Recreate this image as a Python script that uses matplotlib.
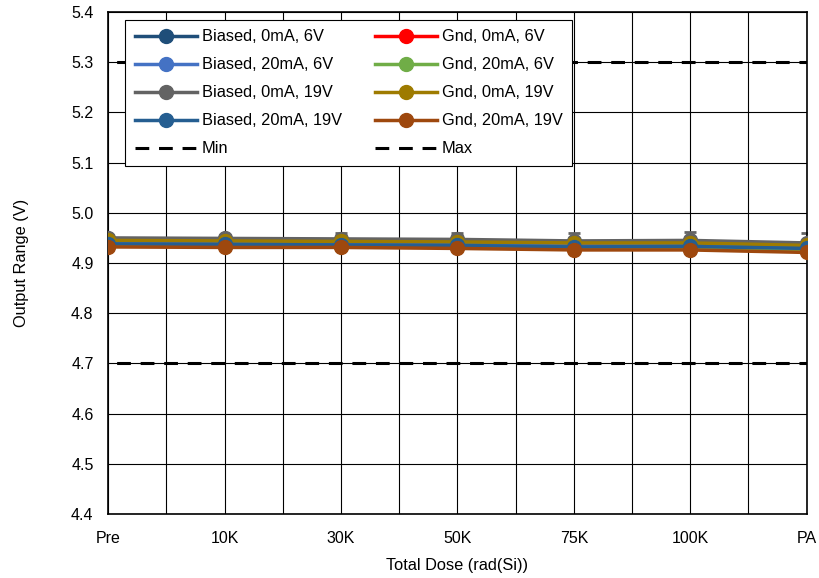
import matplotlib
matplotlib.use("Agg")
import matplotlib.pyplot as plt
import numpy as np

plt.rcParams["font.family"] = ["Liberation Sans", "DejaVu Sans"]

# data
doses = ["Pre", "10K", "30K", "50K", "75K", "100K", "PA"]
biased_0ma_6v = [4.945, 4.944, 4.943, 4.942, 4.939, 4.940, 4.934]
biased_20ma_6v = [4.940, 4.939, 4.938, 4.937, 4.934, 4.935, 4.930]
biased_0ma_19v = [4.950, 4.949, 4.948, 4.947, 4.944, 4.945, 4.940]
biased_20ma_19v = [4.938, 4.937, 4.936, 4.935, 4.932, 4.933, 4.929]
gnd_0ma_6v = [4.944, 4.943, 4.942, 4.941, 4.938, 4.939, 4.933]
gnd_20ma_6v = [4.936, 4.935, 4.934, 4.933, 4.930, 4.931, 4.926]
gnd_0ma_19v = [4.945, 4.944, 4.943, 4.942, 4.940, 4.940, 4.935]
gnd_20ma_19v = [4.932, 4.931, 4.931, 4.929, 4.926, 4.926, 4.921]
err_0ma_19v = [0.003, 0.006, 0.012, 0.013, 0.015, 0.016, 0.019]
spec_min = 4.7
spec_max = 5.3

series = [
    ("Biased, 0mA, 6V", biased_0ma_6v, "#1f4e79"),
    ("Gnd, 0mA, 6V", gnd_0ma_6v, "#ff0000"),
    ("Biased, 20mA, 6V", biased_20ma_6v, "#4472c4"),
    ("Gnd, 20mA, 6V", gnd_20ma_6v, "#70ad47"),
    ("Biased, 0mA, 19V", biased_0ma_19v, "#636363"),
    ("Gnd, 0mA, 19V", gnd_0ma_19v, "#9e7b00"),
    ("Biased, 20mA, 19V", biased_20ma_19v, "#255e91"),
    ("Gnd, 20mA, 19V", gnd_20ma_19v, "#9e480e"),
]

fig = plt.figure(figsize=(8.19, 5.78), dpi=100)
ax = fig.add_axes([0.132, 0.111, 0.853, 0.868])

x = np.arange(len(doses))

# error bars on the 19V unloaded biased part
ax.errorbar(x, biased_0ma_19v, yerr=err_0ma_19v, fmt="none",
            ecolor="#636363", elinewidth=1.5, capsize=4, capthick=2, zorder=2)

handles = {}
for label, vals, col in series:
    h, = ax.plot(x, vals, color=col, lw=2.5, marker="o", markersize=10,
                 label=label, zorder=3)
    handles[label] = h

dash = (0, (4.5, 3.2))
h_min, = ax.plot([x[0] - 1, x[-1] + 1], [spec_min, spec_min], color="black",
                 lw=2.2, ls=dash, label="Min", zorder=2)
h_max, = ax.plot([x[0] - 1, x[-1] + 1], [spec_max, spec_max], color="black",
                 lw=2.2, ls=dash, label="Max", zorder=2)

# axes format
ax.set_xlim(0, 6)
ax.set_ylim(4.4, 5.4)
ax.set_xticks(x)
ax.set_xticklabels(doses)
ax.set_xticks(np.arange(0.5, 6, 1), minor=True)
ax.set_yticks(np.arange(4.4, 5.41, 0.1))
ax.yaxis.set_major_formatter(matplotlib.ticker.FormatStrFormatter("%.1f"))
ax.grid(True, which="both", color="black", lw=0.8)
ax.tick_params(which="both", length=0, labelsize=11.5, pad=12)
ax.tick_params(axis="y", pad=10.5)
for s in ax.spines.values():
    s.set_color("black")
    s.set_linewidth(1.2)

ax.set_xlabel("Total Dose (rad(Si))", fontsize=11.8, labelpad=9)
ax.set_ylabel("Output Range (V)", fontsize=11.8, labelpad=30)

order = ["Biased, 0mA, 6V", "Biased, 20mA, 6V", "Biased, 0mA, 19V",
         "Biased, 20mA, 19V"]
order2 = ["Gnd, 0mA, 6V", "Gnd, 20mA, 6V", "Gnd, 0mA, 19V", "Gnd, 20mA, 19V"]
hl = [handles[k] for k in order] + [h_min] + [handles[k] for k in order2] + [h_max]
leg = ax.legend(hl, [h.get_label() for h in hl], ncol=2, loc="upper left",
                bbox_to_anchor=(0.024, 0.985), fontsize=11.8, frameon=True,
                fancybox=False, framealpha=1, edgecolor="black",
                handlelength=3.8, handletextpad=0.3, columnspacing=2.0,
                labelspacing=0.79, borderpad=0.6, borderaxespad=0.0)
leg.get_frame().set_linewidth(0.8)

fig.savefig("out.png", dpi=100)
plt.close()
